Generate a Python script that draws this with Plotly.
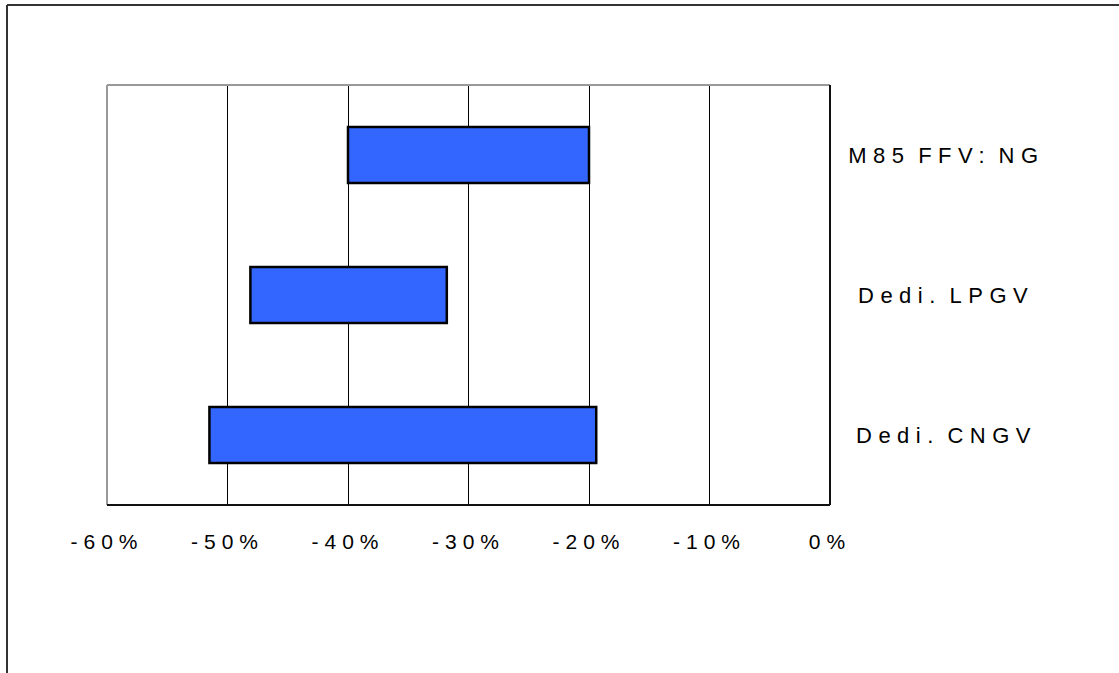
import plotly.graph_objects as go

categories = ["M85 FFV: NG", "Dedi. LPGV", "Dedi. CNGV"]
range_low = [-0.40, -0.481, -0.515]
range_high = [-0.20, -0.318, -0.194]
tick_vals = [-0.6, -0.5, -0.4, -0.3, -0.2, -0.1, 0.0]
tick_text = ["-60%", "-50%", "-40%", "-30%", "-20%", "-10%", "0%"]

W, H = 1119, 673
L, R, T, B = 107, 830, 85, 505
FONT = "Liberation Sans, Arial, sans-serif"

def px_to_paper_x(px):
    return (px - L) / (R - L)

def px_to_paper_y(py):
    return (B - py) / (B - T)

fig = go.Figure()
fig.add_trace(go.Bar(
    y=categories,
    x=[h - l for l, h in zip(range_low, range_high)],
    base=range_low,
    orientation="h",
    width=0.4,
    marker=dict(color="#3366FF", line=dict(color="#000000", width=2.5)),
    hoverinfo="skip",
))

shapes = []
shapes.append(dict(type="line", xref="paper", yref="paper", x0=0, x1=1, y0=1, y1=1,
                   line=dict(color="#999999", width=2)))
shapes.append(dict(type="line", xref="paper", yref="paper", x0=0, x1=0, y0=0, y1=1,
                   line=dict(color="#999999", width=2)))
shapes.append(dict(type="line", xref="paper", yref="paper", x0=1, x1=1, y0=0, y1=1,
                   line=dict(color="#111111", width=2)))
shapes.append(dict(type="line", xref="paper", yref="paper", x0=0, x1=1, y0=0, y1=0,
                   line=dict(color="#111111", width=2)))
shapes.append(dict(type="line", xref="paper", yref="paper",
                   x0=px_to_paper_x(7), x1=px_to_paper_x(7),
                   y0=px_to_paper_y(5), y1=px_to_paper_y(680),
                   line=dict(color="#333333", width=2)))
shapes.append(dict(type="line", xref="paper", yref="paper",
                   x0=px_to_paper_x(7), x1=px_to_paper_x(1125),
                   y0=px_to_paper_y(5), y1=px_to_paper_y(5),
                   line=dict(color="#333333", width=2)))

annotations = []
for c in categories:
    annotations.append(dict(
        x=px_to_paper_x(946), xref="paper", y=c, yref="y",
        text=c, showarrow=False, xanchor="center", yanchor="middle",
        font=dict(family=FONT, size=22, color="#000000"),
    ))

fig.update_layout(
    width=W, height=H,
    margin=dict(l=L, r=W - R, t=T, b=H - B, pad=0),
    paper_bgcolor="white", plot_bgcolor="white",
    showlegend=False,
    shapes=shapes,
    annotations=annotations,
    font=dict(family=FONT, size=21, color="#000000"),
    xaxis=dict(
        range=[-0.6, 0.0], tickvals=tick_vals, ticktext=tick_text,
        showgrid=True, gridcolor="#000000", gridwidth=1,
        zeroline=False, showline=False, ticks="",
        ticklabelstandoff=22,
        tickfont=dict(family=FONT, size=21, color="#000000"),
    ),
    yaxis=dict(
        categoryorder="array", categoryarray=categories[::-1],
        showticklabels=False, showgrid=False, zeroline=False, showline=False,
        range=[-0.5, 2.5],
    ),
)

post = """
var s=document.createElement('style');
s.textContent='html,body{margin:0 !important;padding:0 !important;} .main-svg .xtick text{letter-spacing:6px !important;} .main-svg .annotation-text{letter-spacing:6.5px !important;word-spacing:-5px !important;}';
document.head.appendChild(s);
"""
fig.write_html("out.html", post_script=post, config={"displayModeBar": False})
